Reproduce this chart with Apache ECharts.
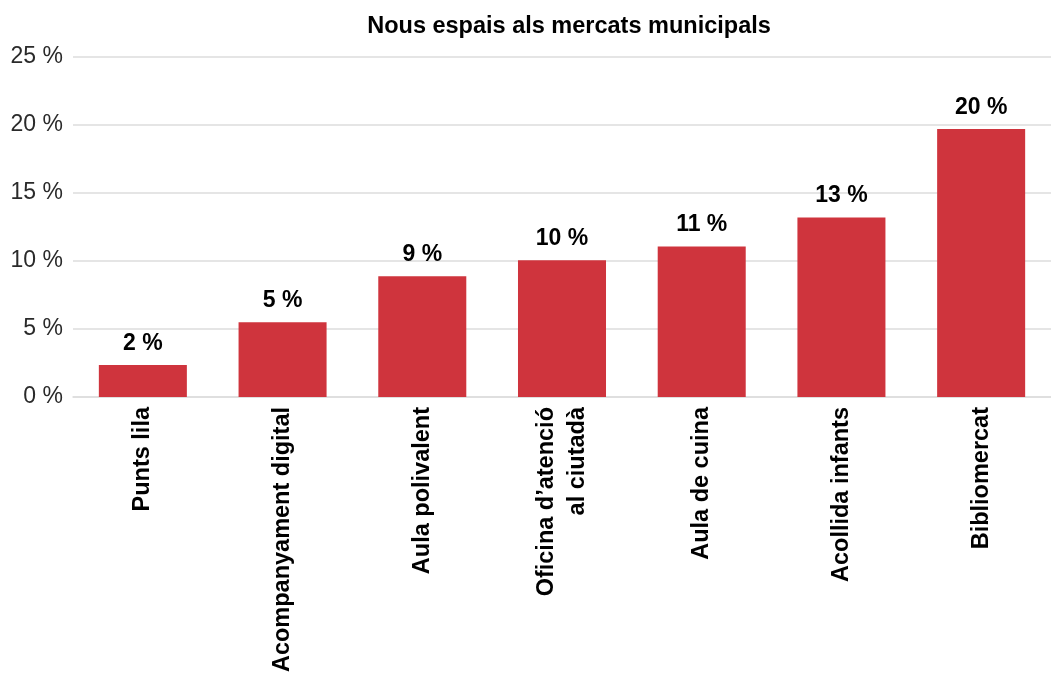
<!DOCTYPE html>
<html>
<head>
<meta charset="utf-8">
<script src="https://cdn.jsdelivr.net/npm/echarts@6/dist/echarts.min.js"></script>
<style>
  html, body { margin: 0; padding: 0; background: #fff; }
  #chart { width: 1051px; height: 673px; }
</style>
</head>
<body>
<div id="chart"></div>
<script>
// New spaces in municipal markets, share of responses (%)
const categories = [
  'Punts lila',
  'Acompanyament digital',
  'Aula polivalent',
  'Oficina d\u2019atenció\nal ciutadà',
  'Aula de cuina',
  'Acollida infants',
  'Bibliomercat'
];
const shares = [2.36, 5.49, 8.87, 10.05, 11.07, 13.19, 19.7];
const yTicks = { min: 0, max: 25, interval: 5 };

const FONT = '"Liberation Sans", Arial, sans-serif';

const chart = echarts.init(document.getElementById('chart'), null, { renderer: 'canvas' });
chart.setOption({
  animation: false,
  backgroundColor: '#ffffff',
  title: {
    text: 'Nous espais als mercats municipals',
    left: 564,
    top: 10,
    textAlign: 'center',
    textStyle: { fontFamily: FONT, fontSize: 23.5, fontWeight: 'bold', color: '#000' }
  },
  grid: {
    left: 73, right: 0, top: 57, bottom: 276,
    containLabel: false,
    outerBoundsMode: 'none'
  },
  xAxis: {
    type: 'category',
    data: categories,
    axisLine: { show: true, lineStyle: { color: '#dddddd', width: 1.5 } },
    axisTick: { show: false },
    axisLabel: {
      rotate: 90,
      interval: 0,
      margin: 10,
      fontFamily: FONT,
      fontSize: 23.5,
      fontWeight: 'bold',
      color: '#000',
      lineHeight: 31
    }
  },
  yAxis: {
    type: 'value',
    min: yTicks.min,
    max: yTicks.max,
    interval: yTicks.interval,
    axisLine: { show: false },
    axisTick: { show: false },
    splitLine: { lineStyle: { color: '#dddddd', width: 1.5 } },
    axisLabel: {
      margin: 10,
      fontFamily: FONT,
      fontSize: 23,
      color: '#2a2a2a',
      formatter: v => v + ' %'
    }
  },
  series: [{
    type: 'bar',
    data: shares,
    barWidth: '63%',
    itemStyle: { color: '#cf343d' },
    label: {
      show: true,
      position: 'top',
      distance: 10,
      fontFamily: FONT,
      fontSize: 23,
      fontWeight: 'bold',
      color: '#000',
      formatter: p => Math.round(p.value) + ' %'
    }
  }]
});
</script>
</body>
</html>
